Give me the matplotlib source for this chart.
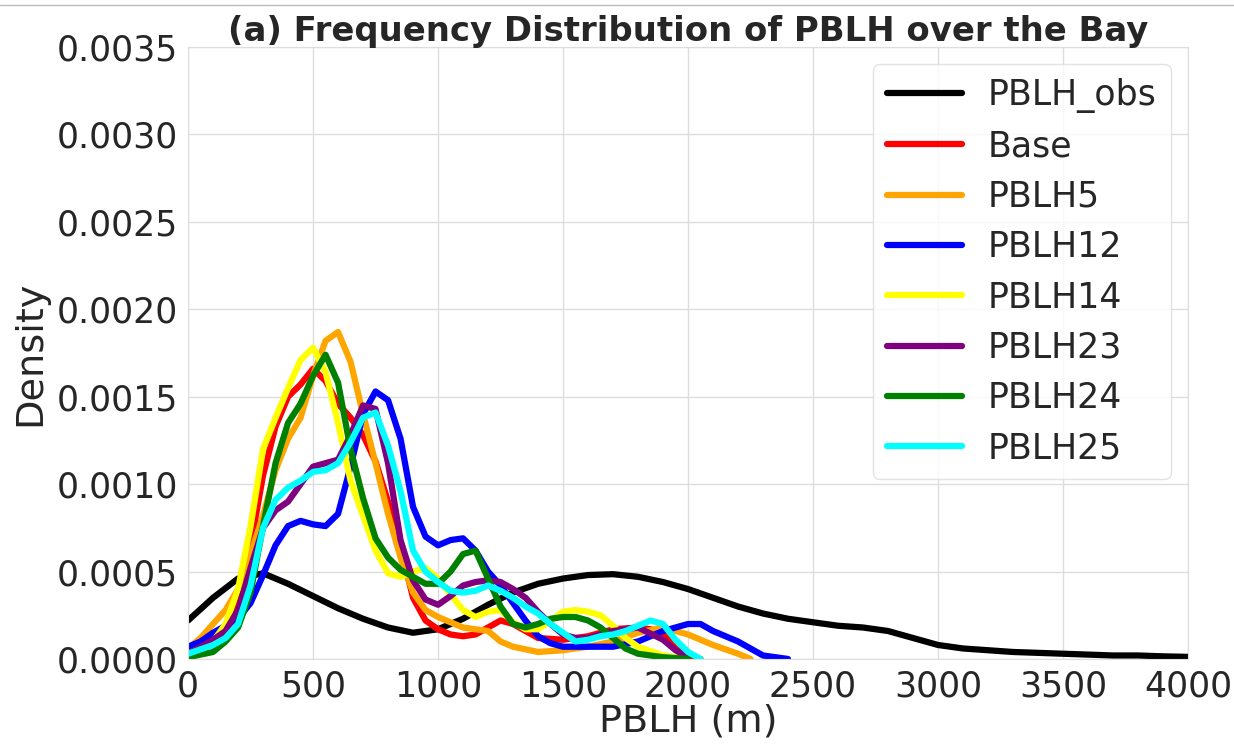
import matplotlib
matplotlib.use("Agg")
import matplotlib.pyplot as plt
import seaborn as sns
from matplotlib.lines import Line2D
from matplotlib.ticker import FormatStrFormatter

sns.set_style("whitegrid")
plt.rcParams['font.family'] = ['DejaVu Sans']

title = "(a) Frequency Distribution of PBLH over the Bay"
xlabel = "PBLH (m)"
ylabel = "Density"

obs_x = [0, 100, 200, 300, 400, 500, 600, 700, 800, 900, 1000, 1100, 1200, 1300, 1400,
         1500, 1600, 1700, 1800, 1900, 2000, 2100, 2200, 2300, 2400, 2500, 2600, 2700,
         2800, 2900, 3000, 3100, 3200, 3300, 3400, 3500, 3600, 3700, 3800, 3900, 4000]
obs_y = [0.00022, 0.00035, 0.00046, 0.00049, 0.00043, 0.00036, 0.00029, 0.00023, 0.00018,
         0.00015, 0.00017, 0.00023, 0.00031, 0.00038, 0.00043, 0.00046, 0.00048, 0.000485,
         0.00047, 0.00044, 0.00040, 0.00035, 0.00030, 0.00026, 0.00023, 0.00021, 0.00019,
         0.00018, 0.00016, 0.00012, 0.00008, 0.00006, 0.00005, 0.00004, 0.000035, 0.00003,
         0.000025, 0.00002, 0.00002, 0.000015, 0.000012]

base_x = [0, 50, 100, 150, 200, 250, 300, 350, 400, 450, 500, 550, 600, 650, 700, 750, 800,
          850, 900, 950, 1000, 1050, 1100, 1150, 1200, 1250, 1300, 1350, 1400, 1500, 1600,
          1700, 1800, 1850, 1900, 1950, 2000, 2050]
base_y = [0.00002, 0.00006, 0.0001, 0.00016, 0.0003, 0.00065, 0.00105, 0.00133, 0.0015,
          0.00157, 0.00166, 0.00159, 0.00146, 0.00138, 0.00128, 0.00113, 0.0009, 0.00064,
          0.00035, 0.00022, 0.00017, 0.00014, 0.00013, 0.00014, 0.00018, 0.00022, 0.0002,
          0.00016, 0.00012, 0.00011, 0.00013, 0.00017, 0.00018, 0.00017, 0.00015, 0.00006,
          0.00001, 0.0]

p5_x = [0, 50, 100, 150, 200, 250, 300, 350, 400, 450, 500, 550, 600, 650, 700, 750, 800,
        850, 900, 950, 1000, 1100, 1200, 1250, 1300, 1400, 1500, 1600, 1700, 1800, 1900,
        2000, 2100, 2200, 2250]
p5_y = [0.00006, 0.00012, 0.0002, 0.00028, 0.0004, 0.0006, 0.00082, 0.00108, 0.00126,
        0.00138, 0.00162, 0.00182, 0.00187, 0.0017, 0.0014, 0.00112, 0.00083, 0.00058,
        0.00038, 0.00028, 0.00024, 0.00018, 0.00016, 0.0001, 0.00007, 0.00004, 0.00005,
        0.00007, 0.0001, 0.00015, 0.00018, 0.00014, 0.00008, 0.00003, 0.0]

p12_x = [0, 50, 100, 150, 200, 250, 300, 350, 400, 450, 500, 550, 600, 650, 700, 750, 800,
         850, 900, 950, 1000, 1050, 1100, 1150, 1200, 1250, 1300, 1350, 1400, 1450, 1500,
         1600, 1700, 1800, 1900, 2000, 2050, 2100, 2200, 2300, 2400]
p12_y = [0.00007, 0.0001, 0.00015, 0.00019, 0.00023, 0.00032, 0.00048, 0.00065, 0.00076,
         0.00079, 0.00077, 0.00076, 0.00083, 0.0011, 0.0014, 0.00153, 0.00148, 0.00126,
         0.00087, 0.0007, 0.00065, 0.00068, 0.00069, 0.00062, 0.0005, 0.00042, 0.00032,
         0.00022, 0.00013, 0.00009, 0.00007, 0.00007, 0.00007, 0.0001, 0.00016, 0.0002,
         0.0002, 0.00016, 0.0001, 0.00002, 0.0]

p14_x = [0, 100, 150, 200, 250, 300, 350, 400, 450, 500, 550, 600, 650, 700, 750, 800, 850,
         900, 950, 1000, 1050, 1100, 1150, 1200, 1250, 1300, 1350, 1400, 1450, 1500, 1550,
         1600, 1650, 1700, 1750, 1800, 1900, 2000]
p14_y = [0.00003, 0.0001, 0.0002, 0.0004, 0.00076, 0.0012, 0.00138, 0.00155, 0.00171,
         0.00178, 0.00164, 0.00135, 0.00102, 0.00082, 0.00062, 0.00049, 0.00047, 0.0005,
         0.00052, 0.00046, 0.00037, 0.00028, 0.00024, 0.00027, 0.00028, 0.00021, 0.00017,
         0.00017, 0.00022, 0.00027, 0.00028, 0.00027, 0.00025, 0.00019, 0.00012, 0.00007,
         0.00002, 0.0]

p23_x = [0, 100, 150, 200, 250, 300, 350, 400, 450, 500, 550, 600, 650, 700, 750, 800, 850,
         900, 950, 1000, 1050, 1100, 1150, 1200, 1250, 1300, 1350, 1400, 1450, 1500, 1550,
         1600, 1700, 1800, 1900, 1950, 2000]
p23_y = [0.00003, 0.00011, 0.00016, 0.00028, 0.00052, 0.00075, 0.00085, 0.0009, 0.001,
         0.0011, 0.00112, 0.00114, 0.00128, 0.00145, 0.00143, 0.00112, 0.00068, 0.00045,
         0.00034, 0.00031, 0.00036, 0.00042, 0.00044, 0.00045, 0.00044, 0.0004, 0.00035,
         0.00027, 0.0002, 0.00014, 0.00012, 0.00012, 0.00016, 0.00018, 0.00011, 0.00005,
         0.00001]

p24_x = [0, 100, 150, 200, 250, 300, 350, 400, 450, 500, 550, 600, 650, 700, 750, 800, 850,
         900, 950, 1000, 1050, 1100, 1150, 1200, 1250, 1300, 1350, 1400, 1450, 1500, 1550,
         1600, 1650, 1700, 1750, 1800, 1900, 2000]
p24_y = [0.00001, 0.00004, 0.0001, 0.00018, 0.00038, 0.00076, 0.00112, 0.00135, 0.00146,
         0.00162, 0.00174, 0.00158, 0.0012, 0.00092, 0.00069, 0.00058, 0.00051, 0.00047,
         0.00043, 0.00043, 0.0005, 0.0006, 0.00062, 0.00046, 0.0003, 0.0002, 0.00018,
         0.0002, 0.00023, 0.00024, 0.00024, 0.00022, 0.00018, 0.00012, 0.00006, 0.00003,
         0.00001, 0.0]

p25_x = [0, 100, 150, 200, 250, 300, 350, 400, 450, 500, 550, 600, 650, 700, 750, 800, 850,
         900, 950, 1000, 1050, 1100, 1150, 1200, 1250, 1300, 1350, 1400, 1450, 1500, 1550,
         1600, 1650, 1700, 1750, 1800, 1850, 1900, 1950, 2000, 2050]
p25_y = [0.00003, 0.00008, 0.00012, 0.0002, 0.00042, 0.00075, 0.00091, 0.00098, 0.00102,
         0.00107, 0.00108, 0.00112, 0.00124, 0.00138, 0.00141, 0.00122, 0.00096, 0.00062,
         0.0005, 0.00044, 0.00039, 0.00038, 0.00039, 0.00042, 0.00039, 0.00035, 0.0003,
         0.00026, 0.0002, 0.00015, 0.0001, 0.00011, 0.00013, 0.00014, 0.00016, 0.00019,
         0.00022, 0.0002, 0.00011, 0.00004, 0.0]

series = [
    ("PBLH_obs", obs_x, obs_y, "black"),
    ("Base", base_x, base_y, "red"),
    ("PBLH5", p5_x, p5_y, "orange"),
    ("PBLH12", p12_x, p12_y, "blue"),
    ("PBLH14", p14_x, p14_y, "yellow"),
    ("PBLH23", p23_x, p23_y, "purple"),
    ("PBLH24", p24_x, p24_y, "green"),
    ("PBLH25", p25_x, p25_y, "cyan"),
]

fig = plt.figure(figsize=(12.34, 7.49), dpi=100)
ax = fig.add_axes([0.1524, 0.1202, 0.8103, 0.8170])

for name, xs, ys, c in series:
    ax.plot(xs, ys, color=c, lw=4.5, label=name, solid_capstyle='round', solid_joinstyle='round')

ax.set_xlim(0, 4000)
ax.set_ylim(0, 0.0035)
ax.set_xticks(range(0, 4001, 500))
ax.set_yticks([i * 0.0005 for i in range(8)])
ax.yaxis.set_major_formatter(FormatStrFormatter('%.4f'))
ax.tick_params(labelsize=25, colors='#262626', pad=4)
ax.set_xlabel(xlabel, fontsize=27.5, color='#262626', labelpad=0)
ax.set_ylabel(ylabel, fontsize=27.5, color='#262626', labelpad=6)
ax.set_title(title, fontsize=24.4, fontweight='bold', color='#262626', pad=4)
ax.grid(True, color='#dddddd', lw=1)
for s in ax.spines.values():
    s.set_color('#dddddd')

leg = ax.legend(loc='upper right', fontsize=25, handlelength=2.16, frameon=True,
                borderaxespad=0.5, labelspacing=0.47, handletextpad=0.75)
leg.get_frame().set_edgecolor('#dddddd')

fig.add_artist(Line2D([0, 1], [1 - 5 / 749, 1 - 5 / 749], color='#bbbbbb', lw=1))

fig.savefig("out.png", dpi=100)
